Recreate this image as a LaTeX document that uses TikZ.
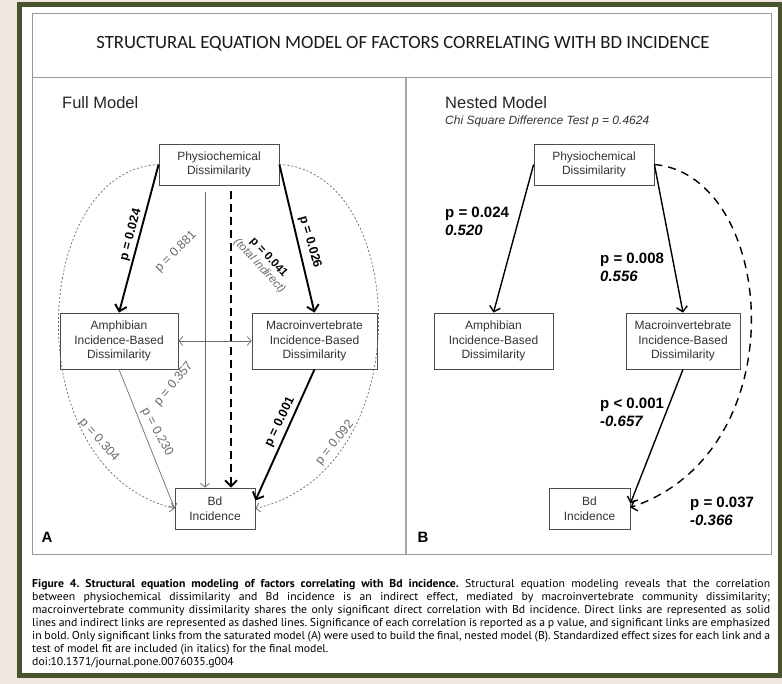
\documentclass[tikz,border=0pt]{standalone}
\usepackage{fontspec}
\setmainfont{Liberation Sans}
\newfontfamily\calfont{Carlito}
\newfontfamily\capfont[FakeStretch=1.03]{PT Sans}
\usetikzlibrary{arrows.meta}
\definecolor{frameg}{RGB}{74,84,44}
\definecolor{bgbeige}{RGB}{239,231,221}
\definecolor{linegray}{RGB}{105,105,105}
\tikzset{
	box/.style={draw=black!70,line width=0.8pt,fill=white,align=center,text=black!80,
		font=\fontsize{12}{14.5}\selectfont,inner sep=0pt},
	sigline/.style={line width=1.9pt,-{Straight Barb[length=6pt,width=12pt]}},
	sigdash/.style={sigline,dash pattern=on 8pt off 5pt},
	nsline/.style={linegray,line width=0.7pt,->},
	dotline/.style={linegray,line width=0.7pt,dash pattern=on 2pt off 2pt,->},
	nestline/.style={line width=1.4pt,-{Straight Barb[length=5pt,width=11pt]}},
	nestdash/.style={nestline,dash pattern=on 8pt off 6pt},
	plab/.style={inner sep=0pt,font=\fontsize{12.5}{14}\selectfont\bfseries},
	glab/.style={inner sep=0pt,text=linegray,font=\fontsize{12.5}{14}\selectfont},
	nlab/.style={anchor=north west,align=left,inner sep=0pt,font=\fontsize{15}{18}\selectfont\bfseries},
	head/.style={anchor=west,inner sep=0pt,text=black!85,font=\fontsize{16.5}{19}\selectfont}
}
\begin{document}
\begin{tikzpicture}[x=1pt,y=-1pt,>={Straight Barb[length=4pt,width=9pt]}]
	\useasboundingbox (0,0) rectangle (782,684);
	\fill[bgbeige] (0,0) rectangle (782,684);
	\draw[frameg,line width=5pt,fill=white] (19.5,4.5) rectangle (780,675.5);
	\draw[gray!80,line width=1pt] (32,14) rectangle (771,554) (32,78)--(771,78);
	\draw[gray!70,line width=1.4pt] (406,78)--(406,554);
	\path (403,44) node[text=black!90,font=\calfont\fontsize{18.7}{21}\selectfont](title)
		{STRUCTURAL EQUATION MODEL OF FACTORS CORRELATING WITH BD INCIDENCE};
	\path (62,103) node[head](fullm){Full Model};
	\path (445,103) node[head](nestm){Nested Model};
	\path (445,121) node[anchor=west,inner sep=0pt,text=black!80,
		font=\fontsize{12}{14}\selectfont\itshape](chisq){Chi Square Difference Test p = 0.4624};
	\path (47,537) node[font=\fontsize{15}{17}\selectfont\bfseries](pa){A};
	\path (423,537) node[font=\fontsize{15}{17}\selectfont\bfseries](pb){B};
	\foreach \n/\x/\y/\w/\h/\texn in {
		physA/219/164.5/120/41/{Physiochemical\\Dissimilarity},
		amphA/119/341/118/56/{Amphibian\\Incidence-Based\\Dissimilarity},
		macA/314.5/341/125/56/{Macroinvertebrate\\Incidence-Based\\Dissimilarity},
		bdA/215/508.5/80/41/{Bd\\Incidence},
		physB/594/164.5/120/41/{Physiochemical\\Dissimilarity},
		amphB/493.5/341/119/56/{Amphibian\\Incidence-Based\\Dissimilarity},
		macB/683/341/114/56/{Macroinvertebrate\\Incidence-Based\\Dissimilarity},
		bdB/589.5/508.5/81/41/{Bd\\Incidence}}
	\path (\x,\y) node[box,minimum width=\w pt,minimum height=\h pt](\n){\texn};
	\coordinate (topv) at ([xshift=-14pt,yshift=-7pt]physA.south);
	\coordinate (topd) at ([xshift=12pt,yshift=-6pt]physA.south);
	\draw[sigline] (physA.west)--(amphA.north);
	\draw[sigline] (physA.east)--(macA.north);
	\draw[nsline] (topv)--(topv |- bdA.north);
	\draw[sigdash] (topd)--(topd |- bdA.north);
	\draw[nsline,<->] (amphA.east)--(macA.west);
	\draw[nsline] (amphA.south)--(bdA.west);
	\draw[sigline] (macA.south)--([yshift=8pt]bdA.east);
	\draw[dotline] (physA.west) .. controls (30,170) and (15,470) .. (bdA.west);
	\draw[dotline] (physA.east) .. controls (408,170) and (423,470) .. (bdA.east);
	\foreach \n/\x/\y/\r/\texn in {
		l1/131/235/75/p = 0.024,
		l2/310/242/-74/p = 0.026,
		l3/280/422/64/p = 0.001}
	\path (\x,\y) node[plab,rotate=\r](\n){\texn};
	\path (264,262) node[plab,rotate=-47,align=center,font=\fontsize{11.5}{12.5}\selectfont\bfseries](l4)
		{p = 0.041\\{\mdseries\itshape\color{linegray}(total indirect)}};
	\foreach \n/\x/\y/\r/\texn in {
		g1/176/252/45/p = 0.881,
		g2/174/384/50/p = 0.357,
		g3/157/432/-61/p = 0.230,
		g4/99/440/-48/p = 0.304,
		g5/335/443/51/p = 0.092}
	\path (\x,\y) node[glab,rotate=\r](\n){\texn};
	\draw[nestline] (physB.west)--(amphB.north);
	\draw[nestline] (physB.east)--(macB.north);
	\draw[nestline] (macB.south)--([yshift=5pt]bdB.east);
	\draw[nestdash] (physB.east) .. controls (775,175) and (800,450) .. ([yshift=1pt]bdB.east);
	\path (445,207) node[nlab](n1){p = 0.024\\\textit{0.520}};
	\path (600,253) node[nlab](n2){p = 0.008\\\textit{0.556}};
	\path (600,398) node[nlab](n3){p < 0.001\\\textit{-0.657}};
	\path (690,497) node[nlab](n4){p = 0.037\\\textit{-0.366}};
	\path (32,579) node[anchor=north west,inner sep=0pt,text width=738pt,align=justify,
		font=\capfont\fontsize{11.4}{13.1}\selectfont\frenchspacing](caption)
		{\textbf{Figure 4. Structural equation modeling of factors correlating with Bd incidence.}
		Structural equation modeling reveals that the correlation\linebreak
		between physiochemical dissimilarity and Bd incidence is an indirect effect, mediated by
		macroinvertebrate community dissimilarity;\linebreak
		macroinvertebrate community dissimilarity shares the only significant direct correlation
		with Bd incidence. Direct links are represented as solid\linebreak
		lines and indirect links are represented as dashed lines. Significance of each correlation
		is reported as a p value, and significant links are emphasized\linebreak
		in bold. Only significant links from the saturated model (A) were used to build the final,
		nested model (B). Standardized effect sizes for each link and a\linebreak
		test of model fit are included (in italics) for the final model.\\
		doi:10.1371/journal.pone.0076035.g004};
\end{tikzpicture}
\end{document}
